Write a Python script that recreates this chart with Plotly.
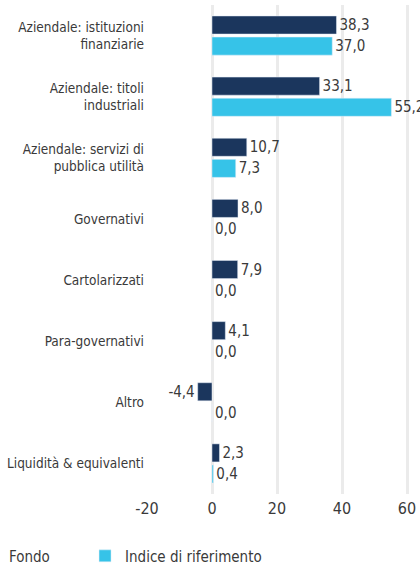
import plotly.graph_objects as go

categories = ["Aziendale: istituzioni<br>finanziarie", "Aziendale: titoli<br>industriali",
              "Aziendale: servizi di<br>pubblica utilità", "Governativi", "Cartolarizzati",
              "Para-governativi", "Altro", "Liquidità & equivalenti"]
fondo = [38.3, 33.1, 10.7, 8.0, 7.9, 4.1, -4.4, 2.3]
indice = [37.0, 55.2, 7.3, 0.0, 0.0, 0.0, 0.0, 0.4]
tick_vals = [-20, 0, 20, 40, 60]
tick_text = ["-20", "0", "20", "40", "60"]

FONT = "DejaVu Sans Condensed, Liberation Sans Narrow, sans-serif"
TXT = "#3a3a3a"

fig = go.Figure()
fig.add_trace(go.Bar(y=categories, x=fondo, name="Fondo", orientation="h",
                     marker_color="#1b365d", texttemplate="%{x:.1f}", textposition="outside",
                     textfont=dict(family=FONT, size=15, color=TXT), cliponaxis=False,
                     constraintext="none", legend="legend"))
fig.add_trace(go.Bar(y=categories, x=indice, name="Indice di riferimento", orientation="h",
                     marker_color="#36c3e8", texttemplate="%{x:.1f}", textposition="outside",
                     textfont=dict(family=FONT, size=15, color=TXT), cliponaxis=False,
                     constraintext="none", legend="legend2"))

fig.update_layout(
    width=420, height=565,
    barmode="group", bargap=0.31, bargroupgap=0.143,
    separators=",.",
    plot_bgcolor="white", paper_bgcolor="white",
    font=dict(family=FONT, size=14, color=TXT),
    margin=dict(l=147, r=0, t=5, b=71, autoexpand=False),
    xaxis=dict(range=[-20, 64], tickvals=tick_vals, ticktext=tick_text, showgrid=True,
               gridcolor="#ebebeb", gridwidth=2.5, zeroline=False, showline=False, ticks="",
               tickfont=dict(size=16), automargin=False, ticklabelstandoff=3),
    yaxis=dict(autorange="reversed", showgrid=False, showline=False, ticks="",
               ticklabelstandoff=2, tickfont=dict(size=13.5), automargin=False),
    legend=dict(orientation="h", xref="paper", yref="paper", x=-0.652, y=-0.127,
                xanchor="left", yanchor="middle", font=dict(size=15)),
    legend2=dict(orientation="h", xref="paper", yref="paper", x=-0.227, y=-0.127,
                 xanchor="left", yanchor="middle", font=dict(size=15)),
    showlegend=True,
)
fig.write_html("out.html", config={"displayModeBar": False},
               post_script="document.body.style.margin='0';")
